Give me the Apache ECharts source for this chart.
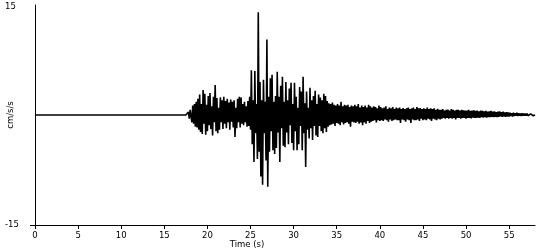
<!DOCTYPE html>
<html>
<head>
<meta charset="utf-8">
<script src="https://cdn.jsdelivr.net/npm/echarts@6/dist/echarts.min.js"></script>
<style>
html,body{margin:0;padding:0;background:#fff;}
#chart{width:550px;height:250px;}
</style>
</head>
<body>
<div id="chart"></div>
<script>
// Time axis labels (s) and y labels (cm/s/s)
const xTicks = [0, 5, 10, 15, 20, 25, 30, 35, 40, 45, 50, 55];
const yLabels = [-15, 15];
const yTicks = [-15];

// Quiet record before the first arrival
const quietStart = 0;
const onsetTime = 17.5;
const sampleStep = 0.1;

const accel = [
  // 17.5-18
  0.1, -0.2, 0.4, -0.5, 0.7,
  // 18-19
  0.9, -1.0, 1.3, -1.2, 1.5, -1.6, 1.8, -1.7, 2.2, -2.0,
  // 19-20
  2.8, -2.3, 1.5, -2.6, 3.4, -1.2, 2.9, -2.7, 1.4, -2.2,
  // 20-21
  2.6, -1.4, 3.0, -1.9, 1.2, -2.8, 2.5, -1.0, 4.1, -2.2,
  // 21-22
  2.3, -2.5, 1.0, -2.0, 2.4, -1.0, 2.0, -1.9, 2.5, -1.2,
  // 22-23
  1.9, -1.8, 2.2, -1.0, 1.7, -2.0, 2.1, -0.9, 1.8, -1.7,
  // 23-24
  2.0, -3.0, 1.0, -1.8, 2.2, -1.0, 2.5, -1.7, 2.4, -1.2,
  // 24-25
  1.5, -1.4, 1.8, -1.0, 1.2, -1.6, 1.9, -1.5, 2.5, -2.0,
  // 25-26
  6.1, -4.0, 2.0, -6.4, 6.0, -2.5, 1.5, -6.0, 14.0, -5.0,
  // 26-27
  4.5, -8.4, 2.0, -9.5, 4.8, -2.5, 1.8, -6.2, 10.3, -9.8,
  // 27-28
  2.5, -5.0, 5.0, -2.2, 5.5, -4.8, 1.8, -5.3, 2.6, -4.5,
  // 28-29
  5.9, -2.4, 2.5, -6.4, 4.0, -1.8, 5.2, -4.2, 1.8, -4.4,
  // 29-30
  4.5, -2.4, 2.0, -4.0, 3.6, -1.4, 4.4, -3.8, 1.5, -4.8,
  // 30-31
  4.4, -2.2, 2.5, -4.8, 1.0, -4.0, 3.8, -1.5, 3.2, -4.8,
  // 31-32
  5.2, -2.5, 1.6, -7.1, 3.2, -2.0, 1.0, -3.2, 3.7, -1.8,
  // 32-33
  2.0, -3.4, 2.6, -1.5, 3.3, -2.8, 1.5, -3.0, 2.8, -1.5,
  // 33-34
  2.4, -2.2, 2.0, -2.5, 2.9, -1.8, 2.6, -2.3, 1.9, -1.6,
  // 34-35
  1.6, -1.4, 1.5, -1.3, 1.7, -1.2, 1.4, -1.5, 1.3, -1.1,
  // 35-36
  1.5, -1.2, 1.3, -1.4, 1.8, -1.0, 1.2, -1.3, 1.4, -1.1,
  // 36-37
  1.3, -1.0, 1.4, -1.2, 1.1, -1.6, 1.3, -0.9, 1.2, -1.0,
  // 37-38
  1.4, -1.1, 1.2, -0.9, 1.5, -1.2, 1.0, -1.0, 1.3, -1.4,
  // 38-39
  1.1, -1.0, 1.3, -1.2, 1.0, -0.8, 1.4, -1.1, 1.2, -0.9,
  // 39-40
  1.0, -0.8, 1.2, -0.7, 1.1, -1.0, 0.9, -0.7, 1.3, -0.8,
  // 40-41
  1.1, -0.7, 0.9, -0.8, 1.0, -0.6, 1.2, -0.7, 0.8, -0.9,
  // 41-42
  1.0, -0.6, 0.9, -0.8, 1.1, -0.7, 0.8, -0.6, 1.0, -0.7,
  // 42-43
  0.9, -0.7, 1.0, -1.1, 0.8, -0.6, 0.95, -0.7, 0.8, -0.9,
  // 43-44
  0.9, -0.6, 1.0, -0.7, 0.8, -1.1, 0.9, -0.6, 1.0, -0.7,
  // 44-45
  0.8, -0.7, 1.1, -0.6, 0.9, -0.8, 0.95, -0.5, 0.8, -0.7,
  // 45-46
  0.9, -0.6, 0.8, -0.7, 1.0, -0.5, 0.8, -0.6, 0.9, -0.8,
  // 46-47
  0.8, -0.5, 0.9, -0.6, 0.7, -0.7, 0.85, -0.5, 0.7, -0.6,
  // 47-48
  0.7, -0.5, 0.8, -0.4, 0.6, -0.5, 0.7, -0.4, 0.75, -0.5,
  // 48-49
  0.6, -0.4, 0.8, -0.5, 0.7, -0.4, 0.6, -0.6, 0.7, -0.4,
  // 49-50
  0.7, -0.4, 0.6, -0.5, 0.7, -0.4, 0.65, -0.4, 0.6, -0.5,
  // 50-51
  0.6, -0.4, 0.7, -0.4, 0.55, -0.45, 0.6, -0.35, 0.65, -0.4,
  // 51-52
  0.55, -0.4, 0.6, -0.35, 0.5, -0.4, 0.6, -0.3, 0.55, -0.35,
  // 52-53
  0.5, -0.3, 0.55, -0.35, 0.45, -0.3, 0.5, -0.3, 0.55, -0.25,
  // 53-54
  0.45, -0.3, 0.5, -0.25, 0.4, -0.3, 0.45, -0.25, 0.5, -0.2,
  // 54-55
  0.4, -0.25, 0.45, -0.2, 0.35, -0.25, 0.4, -0.2, 0.35, -0.2,
  // 55-56
  0.3, -0.15, 0.25, -0.2, 0.3, -0.15, 0.25, -0.1, 0.3, -0.15,
  // 56-57
  0.25, -0.1, 0.2, -0.15, 0.25, -0.1, 0.2, -0.1, 0.2, -0.1,
  // 57-58
  0.2, -0.1, 0.15, -0.1, 0.15, -0.1, 0.15, -0.1, 0.1, 0
];

const seriesData = [[quietStart, 0], [onsetTime, 0]];
accel.forEach(function (v, i) {
  seriesData.push([+(onsetTime + (i + 1) * sampleStep).toFixed(2), v]);
});

const font = 'DejaVu Sans';
const chart = echarts.init(document.getElementById('chart'), null, {renderer: 'canvas'});
chart.setOption({
  animation: false,
  backgroundColor: '#ffffff',
  grid: {left: 35, right: 15, top: 5, bottom: 25, containLabel: false, outerBoundsMode: 'none'},
  xAxis: {
    type: 'value',
    min: 0,
    max: 58,
    name: 'Time (s)',
    nameLocation: 'middle',
    nameGap: 15,
    nameMoveOverlap: false,
    nameTextStyle: {color: '#000', fontFamily: font, fontSize: 8.5, padding: [0, 76, 0, 0]},
    axisLine: {show: true, onZero: false, lineStyle: {color: '#000', width: 1}},
    axisTick: {show: true, length: 4, customValues: xTicks, lineStyle: {color: '#000'}},
    axisLabel: {show: true, customValues: xTicks, margin: 6, color: '#000', fontFamily: font, fontSize: 8.5},
    splitLine: {show: false}
  },
  yAxis: {
    type: 'value',
    min: -15,
    max: 15,
    name: 'cm/s/s',
    nameLocation: 'middle',
    nameGap: 20,
    nameRotate: 90,
    nameMoveOverlap: false,
    nameTextStyle: {color: '#000', fontFamily: font, fontSize: 8.5},
    axisLine: {show: true, onZero: false, lineStyle: {color: '#000', width: 1}},
    axisTick: {show: true, length: 5, customValues: yTicks, lineStyle: {color: '#000'}},
    axisLabel: {
      show: true, customValues: yLabels, margin: 30, align: 'left',
      color: '#000', fontFamily: font, fontSize: 8.5,
      formatter: function (v) { return v > 0 ? '{t|' + v + '}' : String(v); },
      rich: {t: {color: '#000', fontFamily: font, fontSize: 8.5, padding: [4, 0, 0, 0]}}
    },
    splitLine: {show: false}
  },
  series: [{
    type: 'line',
    data: seriesData,
    showSymbol: false,
    symbol: 'none',
    sampling: 'none',
    clip: false,
    lineStyle: {color: '#000', width: 1.6},
    itemStyle: {color: '#000'}
  }]
});
</script>
</body>
</html>
